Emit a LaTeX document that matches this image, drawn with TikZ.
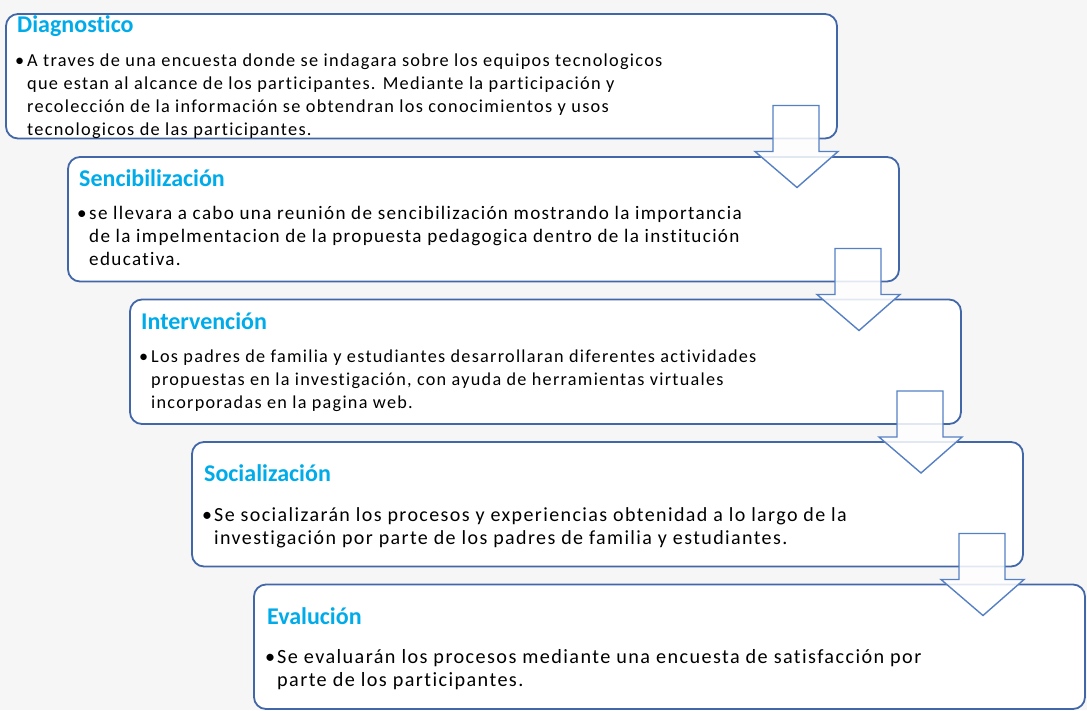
\documentclass[tikz,border=0pt]{standalone}
\usepackage{fontspec}
\setmainfont{Carlito}[Ligatures=NoCommon]
\newfontfamily\stepfont[LetterSpace=7,Ligatures=NoCommon]{Carlito}
\usetikzlibrary{calc}
\definecolor{StepLine}{RGB}{66,103,168}
\definecolor{ArrowLine}{RGB}{86,128,196}
\definecolor{StepTitle}{RGB}{0,171,234}
\definecolor{PageGray}{RGB}{246,246,246}
\newcommand{\stepbul}{\makebox[12pt][l]{\textbullet}}
\newcommand{\stepind}{\hspace*{12pt}}

\begin{document}
\begin{tikzpicture}[x=1pt,y=-1pt,
    stepbox/.style={draw=StepLine,line width=1.8pt,fill=white,rounded corners=12pt,
      minimum width=831pt,minimum height=124.5pt,anchor=north west,inner sep=0pt,outer sep=0pt},
    steptitle/.style={anchor=base west,inner sep=0pt,text=StepTitle,
      font=\fontsize{24}{28}\selectfont\bfseries},
    steptext/.style={anchor=base west,inner sep=0pt,align=left,
      font=\stepfont\fontsize{#1}{23}\selectfont},
    downarrow/.style={draw=ArrowLine,line width=1.4pt,fill=white,fill opacity=0.85,line join=miter}]
  \fill[PageGray] (0,0) rectangle (1087,710);
  \useasboundingbox (0,0) rectangle (1087,710);

  % the five steps
  \node[stepbox] (s1) at (6,14) {};
  \node[stepbox] (s2) at (68,157) {};
  \node[stepbox] (s3) at (130,299.5) {};
  \node[stepbox] (s4) at (192,442) {};
  \node[stepbox] (s5) at (254,584.5) {};

  % titles at first baseline, texts at last baseline
  \node[steptitle] (t1) at ($(s1.north west)+(11,18)$) {Diagnostico};
  \node[steptext=18.3] (d1) at ($(s1.north west)+(9,121)$) {\stepbul A traves de una encuesta donde se indagara sobre los equipos tecnologicos\\
    \stepind que estan al alcance de los participantes. Mediante la participación y\\
    \stepind recolección de la información se obtendran los conocimientos y usos\\
    \stepind tecnologicos de las participantes.};

  \node[steptitle] (t2) at ($(s2.north west)+(11,29)$) {Sencibilización};
  \node[steptext=19.1] (d2) at ($(s2.north west)+(9,108)$) {\stepbul se llevara a cabo una reunión de sencibilización mostrando la importancia\\
    \stepind de la impelmentacion de la propuesta pedagogica dentro de la institución\\
    \stepind educativa.};

  \node[steptitle] (t3) at ($(s3.north west)+(11,29.5)$) {Intervención};
  \node[steptext=18.2] (d3) at ($(s3.north west)+(9,108.5)$) {\stepbul Los padres de familia y estudiantes desarrollaran diferentes actividades\\
    \stepind propuestas en la investigación, con ayuda de herramientas virtuales\\
    \stepind incorporadas en la pagina web.};

  \node[steptitle] (t4) at ($(s4.north west)+(12,39)$) {Socialización};
  \node[steptext=20] (d4) at ($(s4.north west)+(10,102)$) {\stepbul Se socializarán los procesos y experiencias obtenidad a lo largo de la\\
    \stepind investigación por parte de los padres de familia y estudiantes.};

  \node[steptitle] (t5) at ($(s5.north west)+(13,39.5)$) {Evalución};
  \node[steptext=20.2] (d5) at ($(s5.north west)+(11,101.5)$) {\stepbul Se evaluarán los procesos mediante una encuesta de satisfacción por\\
    \stepind parte de los participantes.};

  % block arrows between the steps
  \foreach \k in {1,...,4} {
    \draw[downarrow] ($(s\k.south east)+(-64,-33)$) -- ++(46,0) -- ++(0,46) -- ++(19,0)
      -- ($(s\k.south east)+(-40,49)$) -- ($(s\k.south east)+(-82,13)$) -- ++(18,0) -- cycle;
  }
\end{tikzpicture}
\end{document}
